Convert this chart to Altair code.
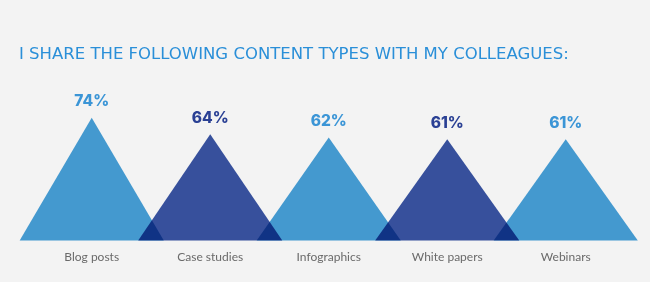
import altair as alt
import pandas as pd

categories = ["Blog posts", "Case studies", "Infographics", "White papers", "Webinars"]
values = [74, 64, 62, 61, 61]
tones = ["light", "dark", "light", "dark", "light"]
labels = ["74%", "64%", "62%", "61%", "61%"]
title_text = "I SHARE THE FOLLOWING CONTENT TYPES WITH MY COLLEAGUES:"

HALF = 0.608  # half base width in category units

rows = []
for i, (c, v, t) in enumerate(zip(categories, values, tones)):
    rows.append({"cat": c, "tone": t, "x": i - HALF, "y": 0})
    rows.append({"cat": c, "tone": t, "x": i, "y": v})
    rows.append({"cat": c, "tone": t, "x": i + HALF, "y": 0})
tri = pd.DataFrame(rows)

lab = pd.DataFrame({"cat": categories, "x": list(range(len(categories))),
                    "v": values, "tone": tones, "label": labels})

xs = alt.Scale(domain=[-0.774, 4.711], nice=False, zero=False)
ys = alt.Scale(domain=[-25, 144.9], nice=False, zero=False)
X = alt.X("x:Q", scale=xs, axis=None)
Y = alt.Y("y:Q", scale=ys, axis=None, stack=None)

light = alt.Chart(tri).transform_filter(alt.datum.tone == "light").mark_area(
    color="#4499cf", line=False
).encode(x=X, y=Y, detail="cat:N")

dark = alt.Chart(tri).transform_filter(alt.datum.tone == "dark").mark_area(
    color="#3954a4", blend="multiply"
).encode(x=X, y=Y, detail="cat:N")

pct = alt.Chart(lab).mark_text(
    font="Inter", fontWeight=800, fontSize=15.5, baseline="alphabetic", dy=-11.5
).encode(
    x=alt.X("x:Q", scale=xs, axis=None),
    y=alt.Y("v:Q", scale=ys, axis=None),
    text="label:N",
    color=alt.Color("tone:N", scale=alt.Scale(domain=["light", "dark"], range=["#3b95d6", "#2a4094"]), legend=None),
)

names = alt.Chart(lab).mark_text(
    font="Lato", fontSize=12, color="#6a6a6a", baseline="middle"
).encode(
    x=alt.X("x:Q", scale=xs, axis=None),
    y=alt.value(257),
    text="cat:N",
)

title = alt.Chart(pd.DataFrame({"t": [title_text]})).mark_text(
    font="DejaVu Sans", fontSize=16.5, color="#2a8fd8", align="left", baseline="middle"
).encode(x=alt.value(19), y=alt.value(54), text="t:N")

chart = alt.layer(light, dark, pct, names, title).properties(
    width=650, height=282, padding=0, autosize=alt.AutoSizeParams(type="none"),
    background="#f3f3f3",
).configure_view(stroke=None)

chart.save("out.html", embed_options={"renderer": "svg", "actions": False})
